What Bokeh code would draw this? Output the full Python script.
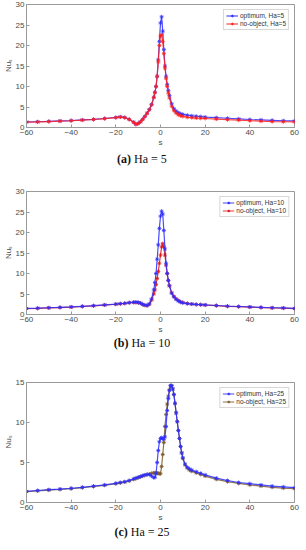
from bokeh.plotting import figure
from bokeh.models import Range1d, FixedTicker, Legend, LegendItem, Div
from bokeh.layouts import column
from bokeh.embed import file_html
from bokeh.resources import INLINE

# ---------------- data ----------------
s_a = [-60, -55, -50, -45, -40, -35, -30, -25, -20, -18, -16, -14, -12, -11, -10, -9, -8, -7, -6, -5, -4,
       -3, -2.5, -2, -1.5, -1, -0.5, 0, 0.5, 1, 1.5, 2, 2.5, 3, 3.5, 4, 5, 6, 7, 8, 9, 10, 12, 14, 16, 18,
       20, 25, 30, 35, 40, 45, 50, 55, 60]
opt_a = [1.35, 1.4, 1.5, 1.6, 1.7, 1.85, 2.0, 2.2, 2.45, 2.6, 2.45, 2.0, 1.3, 0.8, 1.0, 1.4, 2.0, 2.7, 3.5, 4.4, 5.6,
         7.4, 8.6, 10.0, 12.5, 16.5, 21.0, 25.5, 27.0, 23.5, 19.0, 15.0, 12.5, 10.5, 9.0, 7.8, 5.8, 4.6, 4.0, 3.6, 3.35, 3.2, 3.0, 2.85, 2.75, 2.65,
         2.55, 2.4, 2.25, 2.1, 1.95, 1.85, 1.75, 1.65, 1.6]
noobj_a = [1.3, 1.35, 1.45, 1.55, 1.65, 1.8, 1.95, 2.15, 2.4, 2.55, 2.4, 1.95, 1.25, 0.75, 0.95, 1.35, 1.95, 2.65, 3.45, 4.3, 5.5,
           7.3, 8.5, 10.0, 12.5, 16.0, 20.0, 22.3, 22.6, 21.0, 18.0, 14.5, 12.0, 10.0, 8.4, 7.2, 5.2, 4.1, 3.5, 3.1, 2.85, 2.7, 2.5, 2.4, 2.3, 2.25,
           2.2, 2.05, 1.9, 1.8, 1.65, 1.55, 1.45, 1.4, 1.35]

s_b = [-60, -55, -50, -45, -40, -35, -30, -25, -20, -18, -16, -14, -12, -11, -10, -9, -8, -7, -6, -5, -4,
       -3, -2.5, -2, -1.5, -1, -0.5, 0, 0.5, 1, 1.5, 2, 2.5, 3, 3.5, 4, 5, 6, 7, 8, 9, 10, 12, 14, 16, 18,
       20, 25, 30, 35, 40, 45, 50, 55, 60]
opt_b = [1.5, 1.55, 1.65, 1.75, 1.85, 2.0, 2.15, 2.35, 2.55, 2.65, 2.75, 2.9, 3.0, 3.0, 2.95, 2.8, 2.5, 2.3, 2.2, 2.6, 3.8,
         6.0, 7.8, 10.0, 13.5, 17.0, 21.0, 24.0, 25.2, 24.5, 20.5, 16.0, 12.5, 10.0, 8.3, 7.0, 5.2, 4.3, 3.7, 3.3, 3.0, 2.85, 2.65, 2.55, 2.45, 2.4,
         2.35, 2.2, 2.05, 1.95, 1.85, 1.75, 1.65, 1.6, 1.5]
noobj_b = [1.45, 1.5, 1.6, 1.7, 1.8, 1.95, 2.1, 2.3, 2.5, 2.6, 2.7, 2.85, 2.95, 2.95, 2.9, 2.75, 2.45, 2.25, 2.15, 2.5, 3.5,
           5.0, 6.0, 7.3, 8.8, 10.5, 12.5, 14.5, 16.5, 17.3, 16.5, 14.5, 12.0, 10.0, 8.3, 7.0, 5.3, 4.4, 3.8, 3.4, 3.1, 2.9, 2.7, 2.55, 2.45, 2.38,
           2.3, 2.15, 2.0, 1.9, 1.8, 1.7, 1.6, 1.55, 1.45]

s_c = [-60, -55, -50, -45, -40, -35, -30, -25, -20, -18, -16, -14, -12, -11, -10, -9, -8, -7, -6, -5, -4,
       -3, -2.5, -2, -1.5, -1, -0.5, 0, 0.5, 1, 1.5, 2, 2.5, 3, 3.5, 4, 4.5, 5, 5.5, 6, 6.5, 7, 7.5, 8, 8.5, 9,
       9.5, 10, 11, 12, 13, 14, 16, 18, 20, 25, 30, 35, 40, 45, 50, 55, 60]
opt_c = [1.4, 1.5, 1.6, 1.68, 1.78, 1.9, 2.05, 2.2, 2.4, 2.5, 2.6, 2.75, 2.95, 3.05, 3.15, 3.25, 3.35, 3.45, 3.5, 3.5, 3.3,
         3.1, 3.15, 3.6, 5.0, 6.5, 7.6, 8.0, 8.1, 8.0, 7.9, 8.2, 9.5, 11.5, 13.0, 14.0, 14.6, 14.6, 14.2, 13.5, 12.4, 11.2, 10.1, 9.0, 8.0, 7.0,
         6.2, 5.6, 4.8, 4.4, 4.2, 4.05, 3.85, 3.65, 3.45, 3.05, 2.75, 2.5, 2.35, 2.2, 2.05, 1.95, 1.85]
noobj_c = [1.35, 1.45, 1.55, 1.63, 1.72, 1.85, 2.0, 2.15, 2.35, 2.45, 2.55, 2.7, 2.9, 3.0, 3.1, 3.2, 3.3, 3.4, 3.5, 3.55, 3.65,
           3.7, 3.7, 3.7, 3.68, 3.65, 3.6, 3.6, 4.5, 6.0, 7.5, 9.5, 11.0, 12.3, 13.3, 14.1, 14.6, 14.6, 14.2, 13.5, 12.4, 11.2, 10.1, 9.0, 8.0, 7.0,
           6.2, 5.5, 4.7, 4.3, 4.05, 3.9, 3.7, 3.5, 3.3, 2.9, 2.6, 2.38, 2.2, 2.05, 1.9, 1.8, 1.72]

x_ticks = [-60, -40, -20, 0, 20, 40, 60]
y_ticks_ab = [0, 5, 10, 15, 20, 25, 30]
y_ticks_c = [0, 5, 10, 15]

panels = [
    dict(s=s_a, opt=opt_a, no=noobj_a, ymax=30, yt=y_ticks_ab, ha="5", tag="(a)", top=4, fh=123, cap_h=20,
         no_col="#ff2020", order="opt_first"),
    dict(s=s_b, opt=opt_b, no=noobj_b, ymax=30, yt=y_ticks_ab, ha="10", tag="(b)", top=22, fh=123, cap_h=14,
         no_col="#e01818", order="no_first"),
    dict(s=s_c, opt=opt_c, no=noobj_c, ymax=15, yt=y_ticks_c, ha="25", tag="(c)", top=32, fh=120, cap_h=16,
         no_col="#7d5a2a", order="no_first"),
]

TICK_FONT = "Liberation Sans"
GRAY = "#9a9a9a"
LBL = "#4a4a4a"

items = []
for P in panels:
    p = figure(frame_width=268, frame_height=P["fh"], output_backend="svg", toolbar_location=None,
               x_range=Range1d(-60, 60), y_range=Range1d(0, P["ymax"]),
               min_border_top=P["top"], min_border_right=8, min_border_left=16, min_border_bottom=20)
    p.xgrid.grid_line_color = None
    p.ygrid.grid_line_color = None
    p.outline_line_color = GRAY
    p.background_fill_color = "white"
    p.border_fill_color = "white"

    p.xaxis.ticker = FixedTicker(ticks=x_ticks)
    p.yaxis.ticker = FixedTicker(ticks=P["yt"])
    for ax in p.xaxis + p.yaxis:
        ax.axis_line_color = GRAY
        ax.major_tick_line_color = GRAY
        ax.major_tick_in = 3
        ax.major_tick_out = 0
        ax.minor_tick_line_color = None
        ax.major_label_text_font = TICK_FONT
        ax.major_label_text_color = LBL
        ax.major_label_text_font_size = "8px"
        ax.major_label_standoff = 2
        ax.axis_label_text_font = TICK_FONT
        ax.axis_label_text_font_style = "normal"
        ax.axis_label_text_font_size = "8px"
        ax.axis_label_text_color = LBL
        ax.axis_label_standoff = 0
    p.xaxis.axis_label = "s"
    p.yaxis.axis_label = "Nu\u209b"

    def draw_opt():
        l = p.line(P["s"], P["opt"], line_color="#2a2aff", line_width=1.2, line_alpha=0.85)
        m = p.scatter(P["s"], P["opt"], marker="asterisk", size=4, line_color="#3030ff", line_alpha=0.8,
                      line_width=1)
        return l, m

    def draw_no():
        l = p.line(P["s"], P["no"], line_color=P["no_col"], line_width=1.2, line_alpha=0.85)
        m = p.scatter(P["s"], P["no"], marker="asterisk", size=4, line_color=P["no_col"], line_alpha=0.8,
                      line_width=1)
        return l, m

    if P["order"] == "opt_first":
        ro = draw_opt()
        rn = draw_no()
    else:
        rn = draw_no()
        ro = draw_opt()

    leg = Legend(items=[LegendItem(label="optimum, Ha=" + P["ha"], renderers=list(ro)),
                        LegendItem(label="no-object, Ha=" + P["ha"], renderers=list(rn))],
                 location="top_right")
    leg.label_text_font = TICK_FONT
    leg.label_text_font_size = "6.5px"
    leg.label_text_color = "#333333"
    leg.label_height = 7
    leg.label_standoff = 2
    leg.glyph_width = 12
    leg.glyph_height = 7
    leg.spacing = 1
    leg.padding = 2
    leg.margin = 5
    leg.border_line_color = "#b0b0b0"
    leg.border_line_width = 1
    leg.background_fill_alpha = 1
    p.add_layout(leg)

    cap = Div(text='<b>' + P["tag"] + '</b> Ha = ' + P["ha"],
              width=284, height=P["cap_h"], margin=(0, 0, 0, 0),
              styles={"text-align": "center", "font-family": "'Liberation Serif', serif",
                      "font-size": "12px", "color": "#111111",
                      "line-height": str(P["cap_h"]) + "px"})
    items.append(p)
    items.append(cap)

layout = column(*items, spacing=0)
open("out.html", "w").write(file_html(layout, INLINE))
